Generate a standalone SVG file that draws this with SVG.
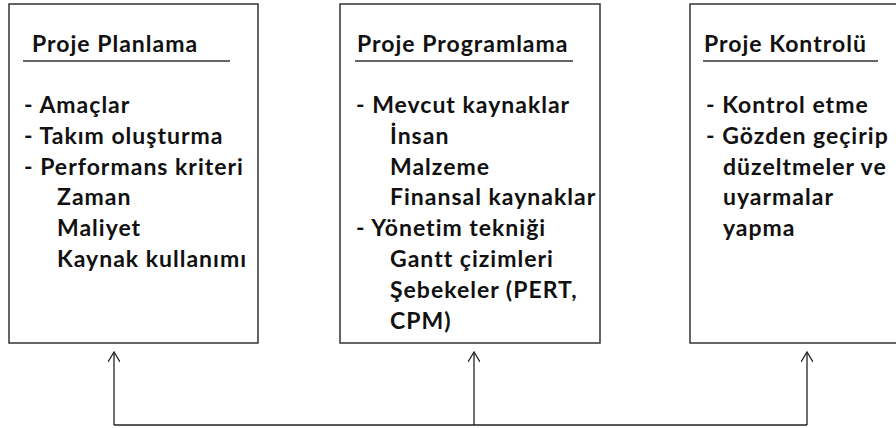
<svg xmlns="http://www.w3.org/2000/svg" width="896" height="428" viewBox="0 0 896 428">
  <style>
    .box { fill: #ffffff; stroke: #333333; stroke-width: 1.5; }
    .rule { stroke: #333333; stroke-width: 1.5; }
    .txt { font-family: "Lato", "Open Sans", "Liberation Sans", sans-serif; font-weight: 700; font-size: 23px; letter-spacing: 1px; fill: #111111; }
    .wire { fill: none; stroke: #222222; stroke-width: 1.3; }
  </style>
  <defs>
    <marker id="openArrow" viewBox="0 0 12 12" refX="11" refY="6" markerWidth="12" markerHeight="12" markerUnits="userSpaceOnUse" orient="auto">
      <path d="M1,0 L11,6 L1,12" fill="none" stroke="#222222" stroke-width="1.3"/>
    </marker>
  </defs>
  <rect width="896" height="428" fill="#ffffff"/>

  <!-- Planning -->
  <g id="planlama">
    <rect class="box" x="9" y="4" width="249" height="339"/>
    <line class="rule" x1="23" y1="61" x2="230" y2="61"/>
    <text class="txt" x="32" y="52">Proje Planlama</text>
    <text class="txt" x="24" y="113">- Amaçlar</text>
    <text class="txt" x="24" y="143.8">- Takım oluşturma</text>
    <text class="txt" x="24" y="174.6">- Performans kriteri</text>
    <text class="txt" x="57" y="205.4">Zaman</text>
    <text class="txt" x="57" y="236.2">Maliyet</text>
    <text class="txt" x="57" y="267">Kaynak kullanımı</text>
  </g>

  <!-- Scheduling -->
  <g id="programlama">
    <rect class="box" x="340" y="4" width="260" height="339"/>
    <line class="rule" x1="355" y1="61" x2="573" y2="61"/>
    <text class="txt" x="357" y="52">Proje Programlama</text>
    <text class="txt" x="356" y="113">- Mevcut kaynaklar</text>
    <text class="txt" x="390" y="143.8">İnsan</text>
    <text class="txt" x="390" y="174.6">Malzeme</text>
    <text class="txt" x="390" y="205.4">Finansal kaynaklar</text>
    <text class="txt" x="356" y="236.2">- Yönetim tekniği</text>
    <text class="txt" x="390" y="267">Gantt çizimleri</text>
    <text class="txt" x="390" y="297.8">Şebekeler (PERT,</text>
    <text class="txt" x="390" y="328.6">CPM)</text>
  </g>

  <!-- Control -->
  <g id="kontrol">
    <rect class="box" x="690" y="4" width="230" height="339"/>
    <line class="rule" x1="703" y1="61" x2="878" y2="61"/>
    <text class="txt" x="704" y="52">Proje Kontrolü</text>
    <text class="txt" x="706" y="113">- Kontrol etme</text>
    <text class="txt" x="706" y="143.8">- Gözden geçirip</text>
    <text class="txt" x="723" y="174.6">düzeltmeler ve</text>
    <text class="txt" x="723" y="205.4">uyarmalar</text>
    <text class="txt" x="723" y="236.2">yapma</text>
  </g>

  <!-- Feedback lines -->
  <g id="connectors">
    <path class="wire" d="M114,425 H807"/>
    <path class="wire" d="M114,425 V352" marker-end="url(#openArrow)"/>
    <path class="wire" d="M474,425 V352" marker-end="url(#openArrow)"/>
    <path class="wire" d="M807,425 V352" marker-end="url(#openArrow)"/>
  </g>
</svg>
